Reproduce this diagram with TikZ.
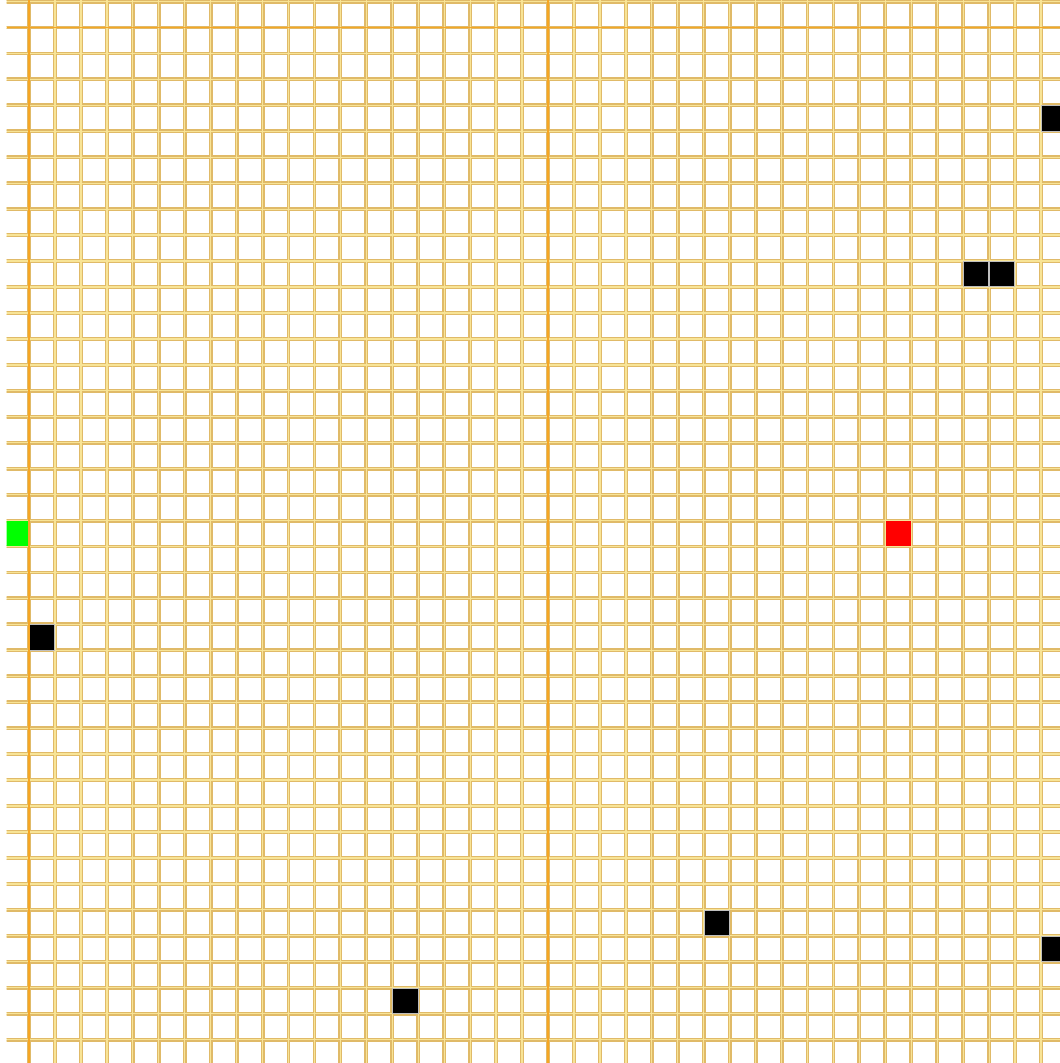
\documentclass[tikz,border=0pt]{standalone}
\definecolor{celledge}{RGB}{224,186,104}
\definecolor{gapcol}{RGB}{248,228,150}
\definecolor{axiscol}{RGB}{246,166,36}
\definecolor{startcol}{RGB}{0,255,0}
\definecolor{goalcol}{RGB}{255,0,0}
\tikzset{
  gridgap/.style={gapcol, line width=3.4pt},
  cellbox/.style={draw=celledge, line width=1.3pt},
  axisline/.style={axiscol, line width=1.8pt},
  obstacle/.style={fill=black, draw=black!25, line width=0.6pt},
  startcell/.style={fill=startcol},
  goalcell/.style={fill=goalcol}
}
\begin{document}
\begin{tikzpicture}[x=1pt,y=-1pt]
\def\p{25.95}
\def\ox{29}
\def\oy{27.5}
\useasboundingbox (0,0) rectangle (1060,1063);
\fill[white] (0,0) rectangle (1060,1063);
\begin{scope}
\clip (6.5,0) rectangle (1060,1063);
% gap bands between cells
\foreach \k in {-1,...,40} {
  \draw[gridgap] (0,{\oy+\k*\p}) -- (1060,{\oy+\k*\p});
}
\foreach \k in {-1,...,40} {
  \draw[gridgap] ({\ox+\k*\p},0) -- ({\ox+\k*\p},1063);
}
% cells
\foreach \i in {-1,...,39} {
  \foreach \j in {-2,...,39} {
    \draw[cellbox] ({\ox+\i*\p+1.3},{\oy+\j*\p+1.3}) rectangle ({\ox+(\i+1)*\p-1.3},{\oy+(\j+1)*\p-1.3});
  }
}
% start and goal
\path[startcell] ({\ox-\p},{\oy+19*\p+0.4}) rectangle ({\ox-0.4},{\oy+20*\p-0.4});
\path[goalcell] ({\ox+33*\p+0.4},{\oy+19*\p+0.4}) rectangle ({\ox+34*\p-0.4},{\oy+20*\p-0.4});
% obstacles
\foreach \i/\j in {0/23, 14/37, 26/34, 36/9, 37/9, 39/3, 39/35} {
  \path[obstacle] ({\ox+\i*\p+0.4},{\oy+\j*\p+0.4}) rectangle ({\ox+(\i+1)*\p-0.4},{\oy+(\j+1)*\p-0.4});
}
% highlighted lines
\draw[axisline] (6.5,\oy) -- (1060,\oy);
\draw[axisline] (\ox,0) -- (\ox,1063);
\draw[axisline] ({\ox+20*\p},0) -- ({\ox+20*\p},1063);
\end{scope}
\end{tikzpicture}
\end{document}
